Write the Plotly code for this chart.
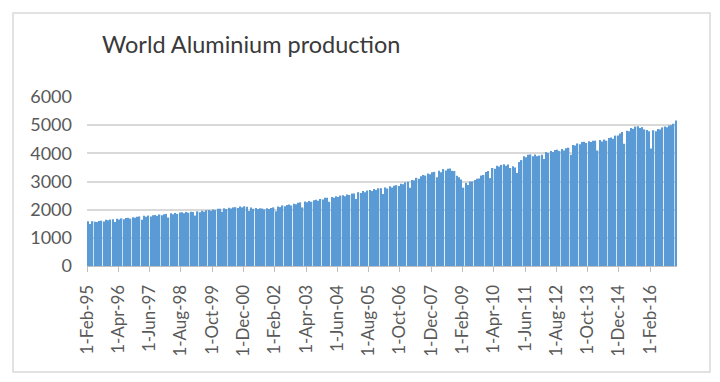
import plotly.graph_objects as go

# Monthly world aluminium production (thousand tonnes), Feb-1995 .. Jan-2017
v1995 = [1590, 1490, 1590, 1570, 1560, 1600, 1610, 1580, 1640, 1620, 1650]
v1996 = [1660, 1560, 1680, 1650, 1690, 1660, 1700, 1710, 1680, 1730, 1710, 1750]
v1997 = [1760, 1640, 1780, 1750, 1790, 1760, 1800, 1810, 1780, 1830, 1800, 1840]
v1998 = [1850, 1720, 1870, 1840, 1880, 1850, 1900, 1910, 1870, 1920, 1890, 1930]
v1999 = [1920, 1790, 1940, 1910, 1960, 1930, 1980, 1990, 1960, 2010, 1990, 2030]
v2000 = [2030, 1930, 2050, 2020, 2070, 2040, 2080, 2090, 2060, 2110, 2080, 2120]
v2001 = [2100, 1950, 2080, 2030, 2060, 2020, 2050, 2040, 2010, 2050, 2020, 2060]
v2002 = [2080, 1940, 2110, 2090, 2150, 2120, 2170, 2180, 2150, 2210, 2190, 2250]
v2003 = [2260, 2080, 2290, 2260, 2310, 2280, 2330, 2350, 2320, 2380, 2360, 2420]
v2004 = [2420, 2280, 2450, 2420, 2480, 2450, 2500, 2510, 2480, 2540, 2520, 2570]
v2005 = [2570, 2380, 2620, 2590, 2660, 2620, 2680, 2700, 2660, 2730, 2700, 2760]
v2006 = [2760, 2560, 2790, 2750, 2830, 2790, 2850, 2870, 2840, 2920, 2900, 2970]
v2007 = [2990, 2780, 3050, 3040, 3130, 3100, 3190, 3230, 3210, 3280, 3260, 3330]
v2008 = [3340, 3150, 3380, 3330, 3440, 3390, 3450, 3460, 3380, 3370, 3200, 3150]
v2009 = [3070, 2780, 2950, 2880, 3000, 3000, 3050, 3100, 3110, 3210, 3230, 3340]
v2010 = [3370, 3120, 3480, 3450, 3560, 3530, 3590, 3610, 3560, 3600, 3480, 3540]
v2011 = [3500, 3300, 3690, 3760, 3900, 3860, 3950, 3960, 3900, 3960, 3900, 3920]
v2012 = [3950, 3800, 4050, 4010, 4080, 4050, 4120, 4130, 4080, 4150, 4100, 4180]
v2013 = [4200, 3950, 4300, 4280, 4350, 4320, 4400, 4410, 4370, 4430, 4400, 4450]
v2014 = [4450, 4100, 4470, 4420, 4490, 4450, 4540, 4560, 4520, 4630, 4630, 4700]
v2015 = [4760, 4340, 4800, 4780, 4900, 4870, 4950, 4960, 4900, 4930, 4850, 4830]
v2016 = [4780, 4170, 4820, 4780, 4860, 4850, 4920, 4950, 4930, 4990, 5000, 5050]
v2017 = [5170]

values = (v1995 + v1996 + v1997 + v1998 + v1999 + v2000 + v2001 + v2002 + v2003
          + v2004 + v2005 + v2006 + v2007 + v2008 + v2009 + v2010 + v2011 + v2012
          + v2013 + v2014 + v2015 + v2016 + v2017)

tick_labels = ["1-Feb-95", "1-Apr-96", "1-Jun-97", "1-Aug-98", "1-Oct-99", "1-Dec-00",
               "1-Feb-02", "1-Apr-03", "1-Jun-04", "1-Aug-05", "1-Oct-06", "1-Dec-07",
               "1-Feb-09", "1-Apr-10", "1-Jun-11", "1-Aug-12", "1-Oct-13", "1-Dec-14",
               "1-Feb-16"]
tick_step_months = 14
y_ticks = [0, 1000, 2000, 3000, 4000, 5000, 6000]

n = len(values)
x_pos = [i + 0.5 for i in range(n)]
tick_pos = [i * tick_step_months for i in range(len(tick_labels))]

fig = go.Figure(go.Bar(x=x_pos, y=values, marker=dict(color="#5b9bd5", line=dict(width=0)),
                       width=0.62))

font_family = "Lato, 'Open Sans', sans-serif"
fig.update_layout(
    width=720, height=382,
    paper_bgcolor="white", plot_bgcolor="white",
    margin=dict(l=87, r=43, t=97, b=116),
    showlegend=False,
    title=dict(text="World Aluminium production", xref="container", yref="container",
               x=102 / 720, xanchor="left", y=1 - 45 / 382, yanchor="middle",
               font=dict(family=font_family, size=23.5, color="#3a3a3a")),
    xaxis=dict(range=[0, n], tickmode="array", tickvals=tick_pos, ticktext=tick_labels,
               tickangle=-90, showgrid=False, zeroline=False,
               showline=True, linecolor="#bfbfbf", linewidth=1,
               ticks="outside", ticklen=5, tickcolor="#bfbfbf",
               tickfont=dict(family=font_family, size=17, color="#595959"),
               ticklabelstandoff=6),
    yaxis=dict(range=[0, 6000], tickmode="array", tickvals=y_ticks,
               showgrid=True, gridcolor="#d9d9d9", gridwidth=1.5, zeroline=False,
               showline=False, ticks="",
               tickfont=dict(family=font_family, size=18, color="#595959"),
               ticklabelstandoff=14),
    shapes=[dict(type="rect", xref="paper", yref="paper",
                 x0=(13 - 87) / 590, x1=(710 - 87) / 590,
                 y0=(266 - 372) / 169, y1=(266 - 13) / 169,
                 line=dict(color="#d9d9d9", width=1.5), fillcolor="rgba(0,0,0,0)",
                 layer="below")],
)

fig.write_html("out.html", config={"displayModeBar": False},
               post_script="document.body.style.margin='0';document.body.style.overflow='hidden';")
